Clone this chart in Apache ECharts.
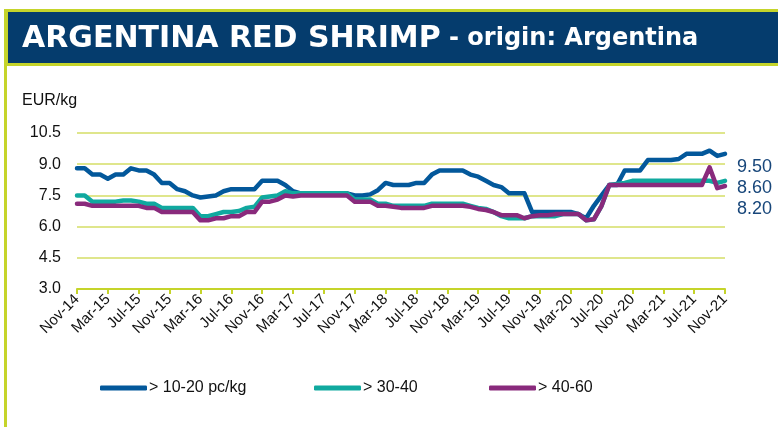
<!DOCTYPE html>
<html><head><meta charset="utf-8">
<script src="https://cdn.jsdelivr.net/npm/echarts@6/dist/echarts.min.js"></script>
<style>html,body{margin:0;padding:0;background:#fff}#c{width:778px;height:427px}</style>
</head><body><div id="c"></div>
<script>
// ---- data ----
const monthNames = ['Jan','Feb','Mar','Apr','May','Jun','Jul','Aug','Sep','Oct','Nov','Dec'];
const startMonth = 10, startYear = 2014, monthCount = 85; // Nov-14 .. Nov-21
const categories = [];
for (let i = 0; i < monthCount; i++) {
  const m = (startMonth + i) % 12;
  const y = startYear + Math.floor((startMonth + i) / 12);
  categories.push(monthNames[m] + '-' + String(y).slice(2));
}
const seriesNames = ['> 10-20 pc/kg', '> 30-40', '> 40-60'];
const size1020 = [8.8,8.8,8.5,8.5,8.3,8.5,8.5,8.8,8.7,8.7, 8.5,8.1,8.1,7.8,7.7,7.5,7.4,7.45,7.5,7.7,
  7.8,7.8,7.8,7.8,8.2,8.2,8.2,8.0,7.7,7.6, 7.6,7.6,7.6,7.6,7.6,7.6,7.5,7.5,7.55,7.75,
  8.1,8.0,8.0,8.0,8.1,8.1,8.5,8.7,8.7,8.7, 8.7,8.5,8.4,8.2,8.0,7.9,7.6,7.6,7.6,6.7,
  6.7,6.7,6.7,6.7,6.7,6.6,6.4,7.0,7.5,8.0, 8.0,8.7,8.7,8.7,9.2,9.2,9.2,9.2,9.25,9.5,
  9.5,9.5,9.65,9.4,9.5];
const size3040 = [7.5,7.5,7.2,7.2,7.2,7.2,7.25,7.25,7.2,7.1, 7.1,6.9,6.9,6.9,6.9,6.9,6.5,6.5,6.6,6.7,
  6.7,6.75,6.9,6.95,7.4,7.45,7.5,7.7,7.6,7.6, 7.6,7.6,7.6,7.6,7.6,7.6,7.3,7.3,7.3,7.1,
  7.1,7.0,7.0,7.0,7.0,7.0,7.1,7.1,7.1,7.1, 7.1,7.0,6.9,6.85,6.7,6.5,6.4,6.4,6.4,6.5,
  6.5,6.5,6.5,6.6,6.6,6.6,6.3,6.35,7.0,8.0, 8.05,8.1,8.2,8.2,8.2,8.2,8.2,8.2,8.2,8.2,
  8.2,8.2,8.2,8.1,8.2];
const size4060 = [7.1,7.1,7.0,7.0,7.0,7.0,7.0,7.0,7.0,6.9, 6.9,6.7,6.7,6.7,6.7,6.7,6.3,6.3,6.4,6.4,
  6.5,6.5,6.7,6.7,7.2,7.2,7.3,7.5,7.45,7.5, 7.5,7.5,7.5,7.5,7.5,7.5,7.2,7.2,7.2,7.0,
  7.0,6.95,6.9,6.9,6.9,6.9,7.0,7.0,7.0,7.0, 7.0,6.95,6.85,6.8,6.7,6.55,6.55,6.55,6.4,6.5,
  6.55,6.55,6.6,6.6,6.6,6.6,6.3,6.35,7.0,8.0, 8.0,8.0,8.0,8.0,8.0,8.0,8.0,8.0,8.0,8.0,
  8.0,8.0,8.85,7.85,7.95];
const endLabels = ['9.50', '8.60', '8.20'];
const yTicks = {min: 3.0, max: 10.5, interval: 1.5};

// ---- style ----
const colors = ['#03589b', '#10a99f', '#892a7c'];
const lime = '#c5d42a';
const font = '"Liberation Sans", Arial, sans-serif';

const chart = echarts.init(document.getElementById('c'), null, {renderer: 'canvas'});
const legendX = [100, 314, 489];
chart.setOption({
  animation: false,
  backgroundColor: '#fff',
  grid: {left: 77, right: 53, top: 133, bottom: 138, containLabel: false},
  xAxis: {
    type: 'category', data: categories, boundaryGap: false,
    axisLine: {lineStyle: {color: lime, width: 2}},
    axisTick: {interval: 3, length: 5, lineStyle: {color: lime, width: 2}},
    axisLabel: {interval: 3, rotate: 45, margin: 8, color: '#111', fontSize: 15, fontFamily: font},
    splitLine: {show: false}
  },
  yAxis: {
    type: 'value', min: yTicks.min, max: yTicks.max, interval: yTicks.interval,
    axisLine: {show: false}, axisTick: {show: false},
    axisLabel: {margin: 16, color: '#111', fontSize: 16, fontFamily: font,
      formatter: v => v.toFixed(1)},
    splitLine: {lineStyle: {color: '#dfe68c', width: 2}}
  },
  legend: seriesNames.map((n, i) => ({
    data: [n], left: legendX[i], top: 380, icon: 'roundRect', itemWidth: 47, itemHeight: 5,
    itemGap: 0, padding: 0,
    textStyle: {color: '#111', fontSize: 16, fontFamily: font, padding: [0, 0, 0, -3]}
  })),
  series: [size1020, size3040, size4060].map((d, i) => ({
    name: seriesNames[i], type: 'line', data: d, showSymbol: false, symbol: 'none',
    color: colors[i],
    lineStyle: {width: 4.5, color: colors[i], join: 'round', cap: 'round'},
    itemStyle: {color: colors[i]}
  })),
  graphic: [
    {type: 'rect', shape: {x: 4, y: 9, width: 774, height: 57}, style: {fill: lime}, silent: true},
    {type: 'rect', shape: {x: 8, y: 12, width: 770, height: 51}, style: {fill: '#053c6d'}, silent: true},
    {type: 'rect', shape: {x: 4, y: 9, width: 3, height: 418}, style: {fill: lime}, silent: true},
    {type: 'text', x: 22, y: 39, style: {
      text: '{a|ARGENTINA RED SHRIMP}{b| - origin: Argentina}',
      verticalAlign: 'middle',
      rich: {
        a: {fill: '#fff', fontSize: 30, fontWeight: 'bold', fontFamily: '"DejaVu Sans", Verdana, sans-serif'},
        b: {fill: '#fff', fontSize: 24, fontWeight: 'bold', fontFamily: '"DejaVu Sans", Verdana, sans-serif'}
      }
    }},
    {type: 'text', x: 22, y: 101, style: {text: 'EUR/kg', fill: '#111', fontSize: 16, fontFamily: font, verticalAlign: 'middle'}},
    ...endLabels.map((t, i) => ({type: 'text', x: 737, y: 167 + i * 21, style: {
      text: t, fill: '#17467a', fontSize: 18, fontFamily: font, verticalAlign: 'middle'}}))
  ]
});
</script>
</body></html>
